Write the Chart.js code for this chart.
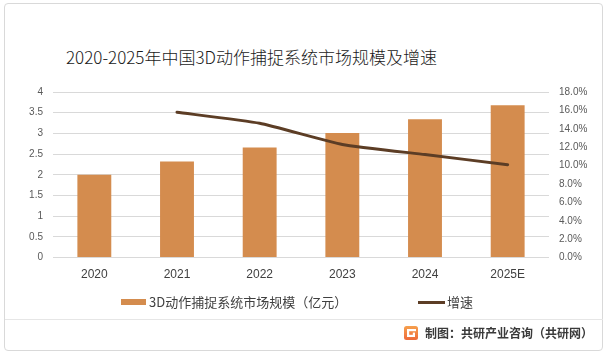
<!DOCTYPE html>
<html>
<head>
<meta charset="utf-8">
<script src="https://cdn.jsdelivr.net/npm/chart.js@4"></script>
<style>
  html, body { margin: 0; padding: 0; background: #fff; }
  body { width: 609px; height: 357px; position: relative; overflow: hidden; font-family: "Noto Sans CJK SC", "Noto Sans", sans-serif; }
  #frame { position: absolute; left: 4px; top: 3px; width: 599px; height: 348px; border: 1px solid #d9d9d9; border-radius: 4px; box-sizing: border-box; }
  #sep { position: absolute; left: 5px; top: 319px; width: 598px; height: 1px; background: #e6e6e6; }
  #title { position: absolute; left: 0; width: 503px; top: 45px; text-align: center; font-size: 17px; line-height: 24px; font-weight: 300; color: #1a1a1a; font-family: "Liberation Sans Narrow", "Noto Sans CJK SC", sans-serif; white-space: nowrap; }
  canvas { position: absolute; left: 0; top: 0; }
  .lg { position: absolute; font-size: 13px; line-height: 16px; color: #404040; white-space: nowrap; }
  .sw { position: absolute; }
  #footer { position: absolute; right: 16px; top: 325px; font-size: 12px; line-height: 16px; font-weight: 600; color: #3a3a3a; white-space: nowrap; }
  #logo { position: absolute; left: 404px; top: 326px; width: 14px; height: 14px; }
</style>
</head>
<body>
<div id="frame"></div>
<div id="title">2020-2025年中国3D动作捕捉系统市场规模及增速</div>
<canvas id="c" width="609" height="357"></canvas>
<div id="legend"></div>
<div id="sep"></div>
<svg id="logo" viewBox="0 0 14 14">
  <defs><linearGradient id="g" x1="0" y1="0" x2="0" y2="1"><stop offset="0" stop-color="#f6a04d"/><stop offset="1" stop-color="#ee6a3a"/></linearGradient></defs>
  <rect x="0" y="0" width="14" height="14" rx="2.5" fill="url(#g)"/>
  <rect x="3" y="3" width="9" height="2.2" fill="#fff"/>
  <rect x="3" y="3" width="2.2" height="8" fill="#fff"/>
  <rect x="3" y="8.8" width="8" height="2.2" fill="#fff"/>
  <rect x="8.8" y="6.6" width="2.2" height="4.4" fill="#fff"/>
</svg>
<div id="footer">制图：共研产业咨询（共研网）</div>
<script>
const categories = ['2020', '2021', '2022', '2023', '2024', '2025E'];
const marketSize = [2.0, 2.32, 2.66, 3.01, 3.34, 3.68];
const growthRate = [null, 15.8, 14.6, 12.3, 11.2, 10.1];
const leftTickLabels = ['0', '0.5', '1', '1.5', '2', '2.5', '3', '3.5', '4'];
const rightTickLabels = ['0.0%', '2.0%', '4.0%', '6.0%', '8.0%', '10.0%', '12.0%', '14.0%', '16.0%', '18.0%'];
const seriesNames = ['3D动作捕捉系统市场规模（亿元）', '增速'];

const barColor = '#D48C4E';
const lineColor = '#5C3D25';

// HTML legend built from series names
const legend = document.getElementById('legend');
legend.innerHTML =
  '<div class="sw" style="left:121px;top:299px;width:25px;height:6px;background:' + barColor + '"></div>' +
  '<div class="lg" style="left:149px;top:294px">' + seriesNames[0] + '</div>' +
  '<div class="sw" style="left:418px;top:301px;width:27px;height:3px;background:' + lineColor + '"></div>' +
  '<div class="lg" style="left:447px;top:294px">' + seriesNames[1] + '</div>';

const tickFont = { family: 'Liberation Sans, Noto Sans, sans-serif', size: 10 };

new Chart(document.getElementById('c'), {
  data: {
    labels: categories,
    datasets: [
      {
        type: 'line',
        label: seriesNames[1],
        data: growthRate,
        yAxisID: 'y1',
        borderColor: lineColor,
        backgroundColor: lineColor,
        borderWidth: 3,
        pointRadius: 0,
        pointHoverRadius: 0,
        tension: 0.15,
        borderCapStyle: 'round',
        order: 0
      },
      {
        type: 'bar',
        label: seriesNames[0],
        data: marketSize,
        yAxisID: 'y',
        backgroundColor: barColor,
        borderWidth: 0,
        categoryPercentage: 1,
        barPercentage: 0.41,
        order: 1
      }
    ]
  },
  options: {
    responsive: false,
    devicePixelRatio: 1,
    animation: false,
    layout: { padding: { top: 92, bottom: 65, left: 0, right: 0 } },
    plugins: {
      legend: { display: false },
      title: { display: false },
      tooltip: { enabled: false }
    },
    scales: {
      x: {
        grid: { display: false, drawTicks: false },
        border: { display: false },
        ticks: { color: '#404040', font: { family: 'Liberation Sans, Noto Sans, sans-serif', size: 12 }, padding: 10 }
      },
      y: {
        position: 'left',
        min: 0,
        max: 4,
        afterBuildTicks: (s) => { s.ticks = leftTickLabels.map(t => ({ value: parseFloat(t) })); },
        grid: { color: '#d9d9d9', lineWidth: 1, drawTicks: false },
        border: { display: false },
        ticks: {
          color: '#595959',
          font: tickFont,
          padding: 10,
          callback: (v, i) => leftTickLabels[i]
        },
        afterFit: (s) => { s.width = 53; }
      },
      y1: {
        position: 'right',
        min: 0,
        max: 18,
        afterBuildTicks: (s) => { s.ticks = rightTickLabels.map(t => ({ value: parseFloat(t) })); },
        grid: { display: false, drawTicks: false },
        border: { display: false },
        ticks: {
          color: '#595959',
          font: tickFont,
          padding: 10,
          callback: (v, i) => rightTickLabels[i]
        },
        afterFit: (s) => { s.width = 60; }
      }
    }
  }
});
</script>
</body>
</html>
